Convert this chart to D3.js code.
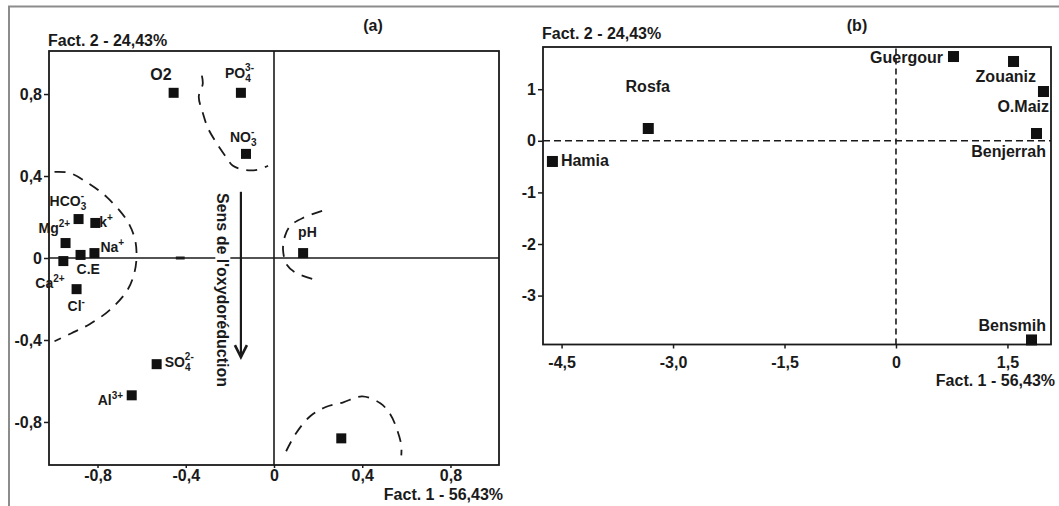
<!DOCTYPE html>
<html>
<head>
<meta charset="utf-8">
<script src="https://cdn.jsdelivr.net/npm/d3@7"></script>
<style>
  body { margin: 0; background: #fff; }
  svg text { font-family: "Liberation Sans", Arial, sans-serif; font-weight: bold; fill: #1a1a1a; }
</style>
</head>
<body>
<div id="chart"></div>
<script>
// ---- panel (a): variables on factor plane
var varNames = ["O2", "PO", "NO", "HCO", "k", "Mg", "Na", "C.E", "Ca", "Cl", "SO", "Al", "pH", ""];
var varSub   = ["",   "4",  "3",  "3",   "",  "",   "",   "",    "",   "",   "4",  "",   "",   ""];
var varSup   = ["",   "3-", "-",  "-",   "+", "2+", "+",  "",    "2+", "-",  "2-", "3+", "",   ""];
var varF1    = [-0.455, -0.15, -0.127, -0.886, -0.81, -0.945, -0.814, -0.877, -0.955, -0.895, -0.532, -0.645, 0.132, 0.305];
var varF2    = [0.806, 0.806, 0.508, 0.19, 0.171, 0.073, 0.024, 0.015, -0.015, -0.152, -0.518, -0.67, 0.024, -0.88];

var ticksA = [-0.8, -0.4, 0, 0.4, 0.8];
var tickLabelsA = ["-0,8", "-0,4", "0", "0,4", "0,8"];

// dashed group outlines (data units)
var groupLeft = [[-0.995,0.42],[-0.927,0.415],[-0.845,0.367],[-0.759,0.298],[-0.668,0.186],[-0.632,0.098],[-0.623,0.02],[-0.632,-0.068],[-0.664,-0.156],[-0.745,-0.254],[-0.836,-0.323],[-0.918,-0.367],[-0.995,-0.406]];
var groupTop = [[-0.327,0.89],[-0.323,0.85],[-0.341,0.787],[-0.323,0.709],[-0.3,0.635],[-0.264,0.567],[-0.218,0.494],[-0.186,0.45],[-0.132,0.43],[-0.077,0.43],[-0.027,0.45]];
var groupPH = [[0.218,0.23],[0.132,0.196],[0.073,0.156],[0.05,0.108],[0.041,0.039],[0.059,-0.034],[0.1,-0.073],[0.177,-0.103]];
var groupBottom = [[0.055,-0.943],[0.1,-0.855],[0.164,-0.772],[0.232,-0.728],[0.314,-0.704],[0.4,-0.675],[0.482,-0.709],[0.527,-0.762],[0.559,-0.841],[0.577,-0.914],[0.577,-0.963]];
var redoxArrow = [[-0.15, 0.323], [-0.15, -0.484]];

// ---- panel (b): stations
var siteNames = ["Rosfa", "Hamia", "Guergour", "Zouaniz", "O.Maiz", "Benjerrah", "Bensmih"];
var siteF1    = [-3.34, -4.63, 0.767, 1.575, 1.978, 1.884, 1.817];
var siteF2    = [0.248, -0.391, 1.643, 1.547, 0.965, 0.151, -3.85];

var ticksBx = [-4.5, -3.0, -1.5, 0, 1.5];
var tickLabelsBx = ["-4,5", "-3,0", "-1,5", "0", "1,5"];
var ticksBy = [1, 0, -1, -2, -3];
var tickLabelsBy = ["1", "0", "-1", "-2", "-3"];

// label placement (pixel offsets from the marker, layout only)
var varLabelPos = [
  {a:"end", dx:-2, dy:-13}, {a:"start", dx:-16, dy:-15}, {a:"start", dx:-16, dy:-12},
  {a:"start", dx:-29, dy:-13}, {a:"start", dx:4, dy:4}, {a:"start", dx:-27, dy:-10},
  {a:"start", dx:6, dy:-1}, {a:"start", dx:-4, dy:19}, {a:"start", dx:-28, dy:27},
  {a:"start", dx:-9, dy:22}, {a:"start", dx:8, dy:3}, {a:"start", dx:-34, dy:10},
  {a:"start", dx:-5, dy:-16}, {a:"start", dx:0, dy:0}
];
var siteLabelPos = [
  {a:"middle", dx:0, dy:-36}, {a:"start", dx:9, dy:5}, {a:"end", dx:-10, dy:7},
  {a:"end", dx:23, dy:21}, {a:"end", dx:6, dy:21}, {a:"end", dx:10, dy:24},
  {a:"end", dx:15, dy:-8}
];

var W = 1059, H = 506, sq = 10;

var svg = d3.select("#chart").append("svg")
    .attr("width", W).attr("height", H);

// outer gray border (top + left)
svg.append("path")
    .attr("d", "M9," + H + "V6.5H" + W)
    .attr("fill", "none").attr("stroke", "#8c8c8c").attr("stroke-width", 2);

function addLabel(g, x, y, anchor, base, sub, sup, size) {
  var t = g.append("text").attr("x", x).attr("y", y)
      .attr("text-anchor", anchor).attr("font-size", size);
  t.append("tspan").text(base);
  if (sub && sup) {
    t.append("tspan").attr("font-size", 10).attr("dy", 4).text(sub);
    t.append("tspan").attr("font-size", 10).attr("dx", -5.6 * sub.length).attr("dy", -11).text(sup);
  } else if (sup) {
    t.append("tspan").attr("font-size", 10).attr("dy", -6).text(sup);
  } else if (sub) {
    t.append("tspan").attr("font-size", 10).attr("dy", 4).text(sub);
  }
  return t;
}

// ================= panel (a)
var xA = d3.scaleLinear().domain([-1.02, 1.02]).range([49, 499]);
var yA = d3.scaleLinear().domain([-1.01, 1.01]).range([465, 51]);
var gA = svg.append("g");

gA.append("rect")
    .attr("x", xA.range()[0]).attr("y", yA.range()[1])
    .attr("width", xA.range()[1] - xA.range()[0])
    .attr("height", yA.range()[0] - yA.range()[1])
    .attr("fill", "none").attr("stroke", "#1a1a1a").attr("stroke-width", 1.8);

gA.append("line")
    .attr("x1", xA(0)).attr("x2", xA(0))
    .attr("y1", yA.range()[0]).attr("y2", yA.range()[1])
    .attr("stroke", "#1a1a1a").attr("stroke-width", 1.6);
gA.append("line")
    .attr("x1", xA.range()[0]).attr("x2", xA.range()[1])
    .attr("y1", yA(0)).attr("y2", yA(0))
    .attr("stroke", "#1a1a1a").attr("stroke-width", 1.6);
// small thick dash sitting on the zero line
gA.append("line")
    .attr("x1", xA(-0.445)).attr("x2", xA(-0.405))
    .attr("y1", yA(0)).attr("y2", yA(0))
    .attr("stroke", "#1a1a1a").attr("stroke-width", 3);

var axA_y = gA.append("g")
    .attr("transform", "translate(" + xA.range()[0] + ",0)")
    .call(d3.axisLeft(yA).tickValues(ticksA).tickSize(5).tickPadding(2).tickSizeOuter(0)
      .tickFormat(function(d, i) { return tickLabelsA[i]; }));
var axA_x = gA.append("g")
    .attr("transform", "translate(0," + yA.range()[0] + ")")
    .call(d3.axisBottom(xA).tickValues(ticksA).tickSize(3).tickPadding(2).tickSizeOuter(0)
      .tickFormat(function(d, i) { return tickLabelsA[i]; }));
[axA_y, axA_x].forEach(function(ax) {
  ax.select(".domain").remove();
  ax.selectAll("line").attr("stroke", "#1a1a1a").attr("stroke-width", 1.5);
  ax.selectAll("text").attr("font-size", 16).attr("fill", "#1a1a1a");
});

// dashed group outlines
var curveLine = d3.line()
    .x(function(d) { return xA(d[0]); })
    .y(function(d) { return yA(d[1]); })
    .curve(d3.curveCatmullRom);
[groupLeft, groupTop, groupPH, groupBottom].forEach(function(pts) {
  gA.append("path")
      .attr("d", curveLine(pts))
      .attr("fill", "none").attr("stroke", "#1a1a1a")
      .attr("stroke-width", 1.8).attr("stroke-dasharray", "11,8");
});

// redox direction label + arrow
var rt = gA.append("g")
    .attr("transform", "translate(" + xA(-0.232) + "," + yA(-0.156) + ") rotate(90)");
var rtBg = rt.append("rect").attr("fill", "#fff");
var rtText = rt.append("text")
    .attr("text-anchor", "middle").attr("dominant-baseline", "central")
    .attr("font-size", 16).text("Sens de l'oxydoréduction");
var bb = rtText.node().getBBox();
rtBg.attr("x", bb.x).attr("y", bb.y + 1).attr("width", bb.width).attr("height", bb.height - 2);

var ax0 = xA(redoxArrow[0][0]), ay0 = yA(redoxArrow[0][1]), ay1 = yA(redoxArrow[1][1]);
gA.append("line")
    .attr("x1", ax0).attr("x2", ax0).attr("y1", ay0).attr("y2", ay1)
    .attr("stroke", "#1a1a1a").attr("stroke-width", 2.2);
gA.append("path")
    .attr("d", "M" + (ax0 - 6) + "," + (ay1 - 12) + "L" + ax0 + "," + ay1 + "L" + (ax0 + 6) + "," + (ay1 - 12))
    .attr("fill", "none").attr("stroke", "#1a1a1a").attr("stroke-width", 2.6);

// variable markers
gA.selectAll("rect.pt").data(varF1).enter().append("rect")
    .attr("class", "pt")
    .attr("x", function(d) { return xA(d) - sq / 2; })
    .attr("y", function(d, i) { return yA(varF2[i]) - sq / 2; })
    .attr("width", sq).attr("height", sq).attr("fill", "#111");

varNames.forEach(function(n, i) {
  if (!n) return;
  var p = varLabelPos[i];
  addLabel(gA, xA(varF1[i]) + p.dx, yA(varF2[i]) + p.dy, p.a, n, varSub[i], varSup[i], n === "O2" ? 16 : 14);
});

gA.append("text").attr("x", 48).attr("y", 46).attr("font-size", 16).text("Fact. 2 - 24,43%");
gA.append("text").attr("x", 503).attr("y", 500).attr("text-anchor", "end").attr("font-size", 16).text("Fact. 1 - 56,43%");
gA.append("text").attr("x", 373).attr("y", 31).attr("text-anchor", "middle").attr("font-size", 16).text("(a)");

// ================= panel (b)
var xB = d3.scaleLinear().domain([-4.75, 2.086]).range([543, 1051]);
var yB = d3.scaleLinear().domain([-3.948, 1.818]).range([344.5, 47]);
var gB = svg.append("g");

gB.append("rect")
    .attr("x", xB.range()[0]).attr("y", yB.range()[1])
    .attr("width", xB.range()[1] - xB.range()[0])
    .attr("height", yB.range()[0] - yB.range()[1])
    .attr("fill", "none").attr("stroke", "#1a1a1a").attr("stroke-width", 1.8);

gB.append("line")
    .attr("x1", xB(0)).attr("x2", xB(0))
    .attr("y1", yB.range()[0]).attr("y2", yB.range()[1])
    .attr("stroke", "#1a1a1a").attr("stroke-width", 1.6).attr("stroke-dasharray", "6,4");
gB.append("line")
    .attr("x1", xB.range()[0]).attr("x2", xB.range()[1])
    .attr("y1", yB(0)).attr("y2", yB(0))
    .attr("stroke", "#1a1a1a").attr("stroke-width", 1.6).attr("stroke-dasharray", "7,4");

var axB_y = gB.append("g")
    .attr("transform", "translate(" + xB.range()[0] + ",0)")
    .call(d3.axisLeft(yB).tickValues(ticksBy).tickSize(5).tickPadding(2).tickSizeOuter(0)
      .tickFormat(function(d, i) { return tickLabelsBy[i]; }));
var axB_x = gB.append("g")
    .attr("transform", "translate(0," + yB.range()[0] + ")")
    .call(d3.axisBottom(xB).tickValues(ticksBx).tickSize(4).tickPadding(8).tickSizeOuter(0)
      .tickFormat(function(d, i) { return tickLabelsBx[i]; }));
[axB_y, axB_x].forEach(function(ax) {
  ax.select(".domain").remove();
  ax.selectAll("line").attr("stroke", "#1a1a1a").attr("stroke-width", 1.5);
  ax.selectAll("text").attr("font-size", 16).attr("fill", "#1a1a1a");
});

gB.selectAll("rect.pt").data(siteF1).enter().append("rect")
    .attr("class", "pt")
    .attr("x", function(d) { return xB(d) - sq / 2; })
    .attr("y", function(d, i) { return yB(siteF2[i]) - sq / 2; })
    .attr("width", sq + 1).attr("height", sq + 1).attr("fill", "#111");

siteNames.forEach(function(n, i) {
  var p = siteLabelPos[i];
  gB.append("text")
      .attr("x", xB(siteF1[i]) + p.dx).attr("y", yB(siteF2[i]) + p.dy)
      .attr("text-anchor", p.a).attr("font-size", 16).text(n);
});

gB.append("text").attr("x", 542).attr("y", 39).attr("font-size", 16).text("Fact. 2 - 24,43%");
gB.append("text").attr("x", 1055).attr("y", 386).attr("text-anchor", "end").attr("font-size", 16).text("Fact. 1 - 56,43%");
gB.append("text").attr("x", 857).attr("y", 31).attr("text-anchor", "middle").attr("font-size", 16).text("(b)");
</script>
</body>
</html>
